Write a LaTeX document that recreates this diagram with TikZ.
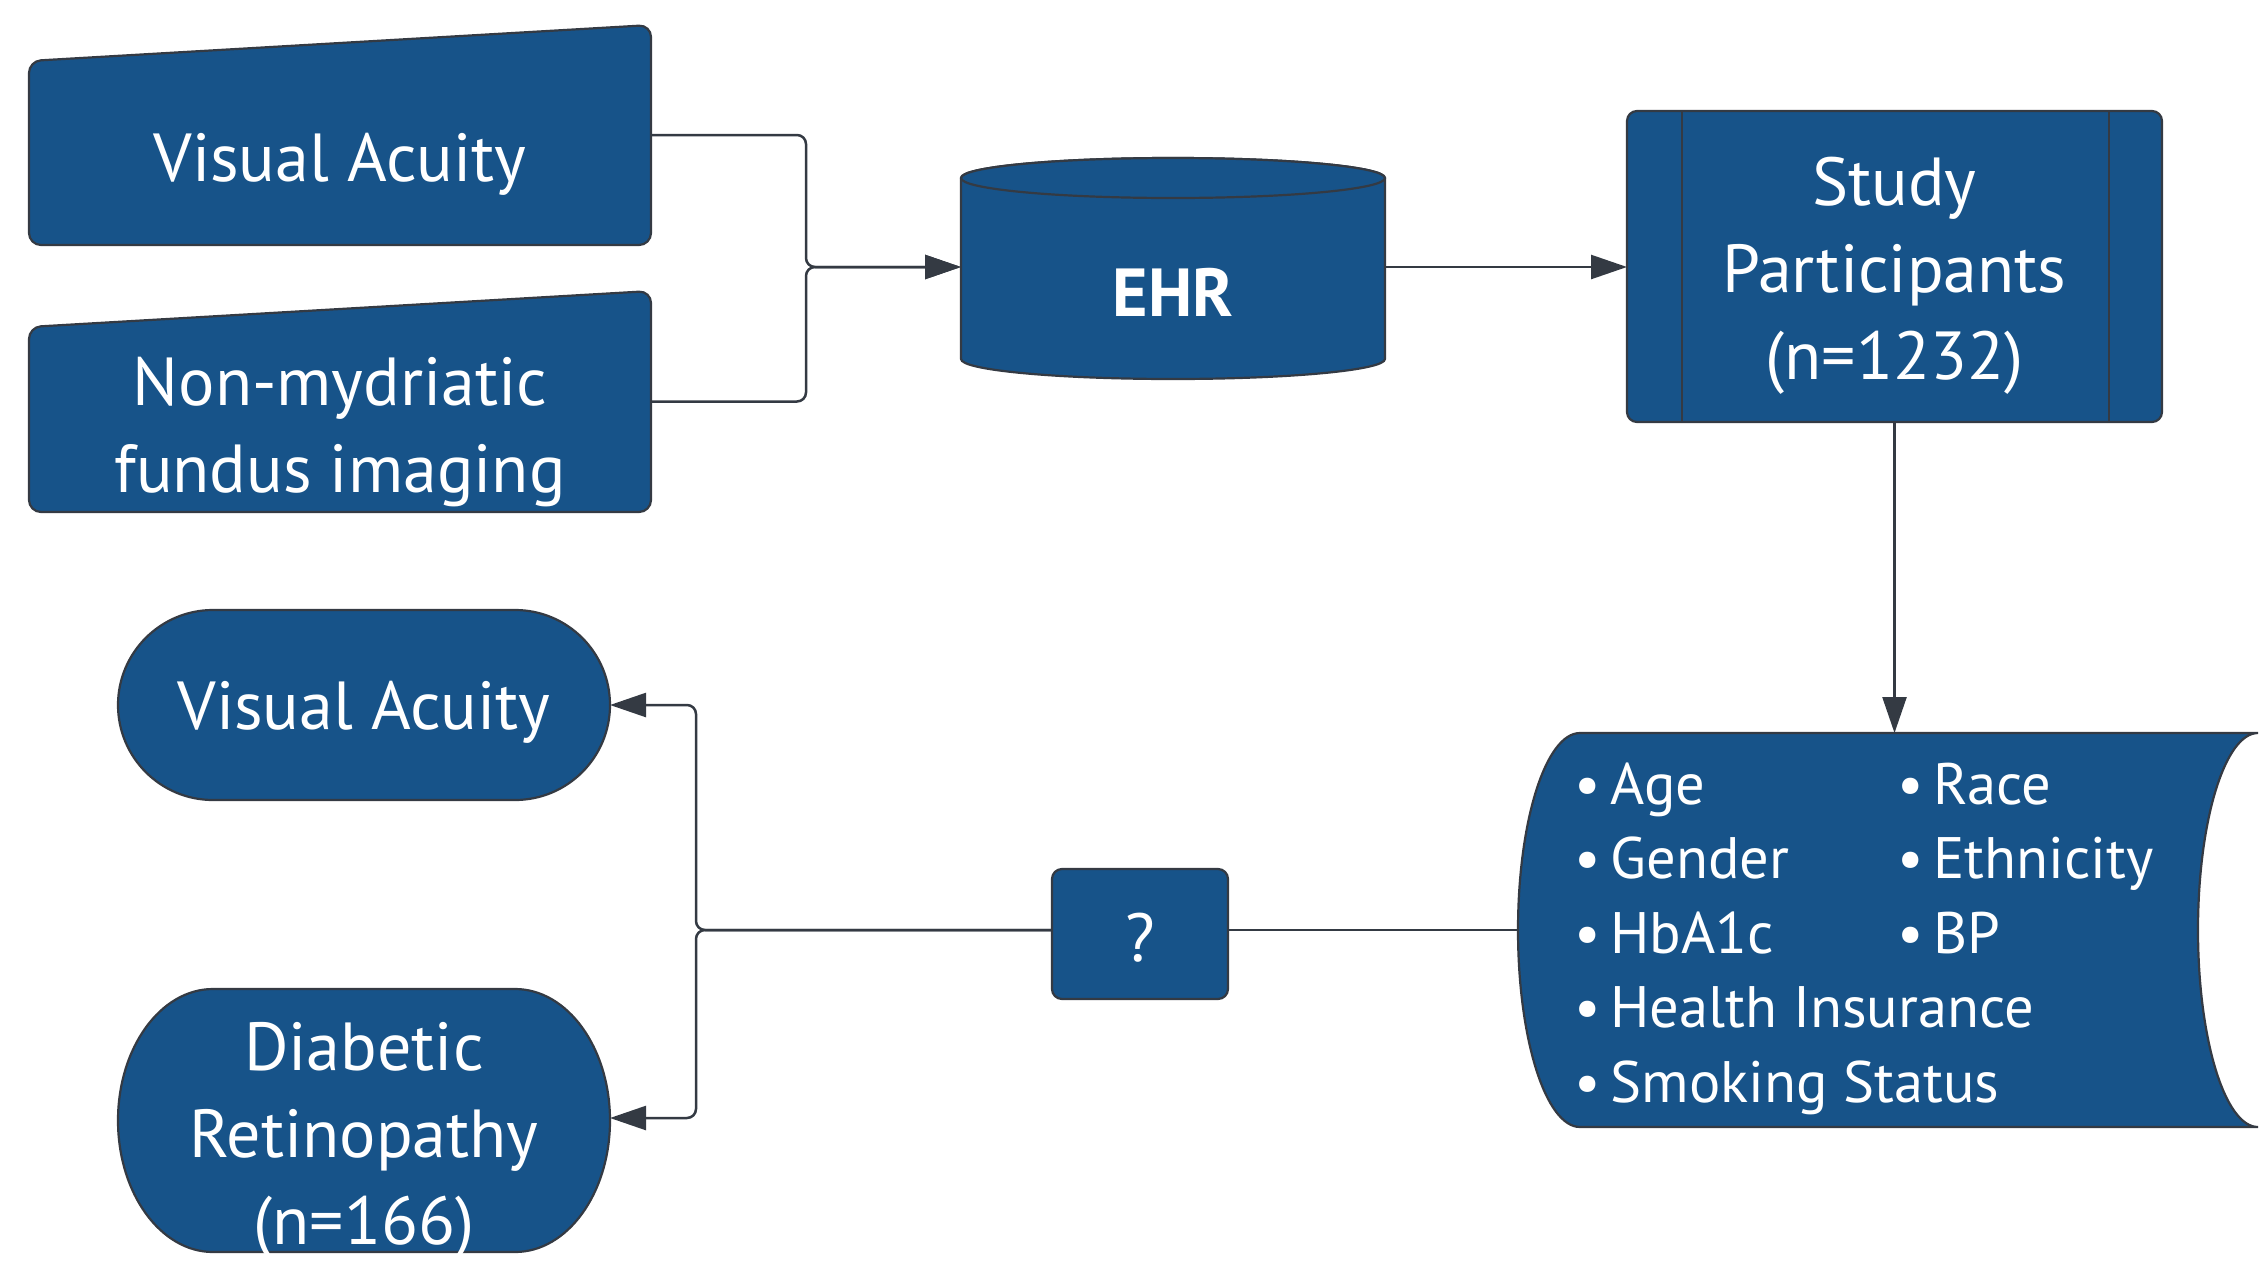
\documentclass[tikz,border=0pt]{standalone}
\usepackage{fontspec}
\setmainfont{PT Sans}
\usetikzlibrary{arrows.meta}
\definecolor{boxblue}{RGB}{23,83,137}
\definecolor{edgegray}{RGB}{52,58,67}
\tikzset{
  shapebox/.style={fill=boxblue, draw=edgegray, line width=2.2pt},
  anchorbox/.style={inner sep=0pt, outer sep=0pt, draw=none},
  txt/.style={text=white, align=center, inner sep=0pt, font=\fontsize{68}{87}\selectfont},
  listtxt/.style={text=white, anchor=base west, inner sep=0pt, font=\fontsize{58.5}{74}\selectfont},
  conn/.style={draw=edgegray, line width=2.5pt, rounded corners=9pt},
  arr/.style={conn, -{Triangle[length=36pt,width=24pt]}},
}
\begin{document}
\begin{tikzpicture}[x=1pt,y=-1pt]
\useasboundingbox (0,0) rectangle (2260,1264);
% ---------- manual input boxes
\draw[shapebox, rounded corners=12pt] (29,61) -- (651,25) -- (651,245) -- (29,245) -- cycle;
\node[anchorbox, minimum width=622pt, minimum height=220pt] (va1) at (340,135) {};
\node[txt] (va1t) at (340,164) {Visual Acuity};
\draw[shapebox, rounded corners=12pt] (29,327) -- (651,291) -- (651,512) -- (29,512) -- cycle;
\node[anchorbox, minimum width=622pt, minimum height=221pt] (nm) at (340,401.5) {};
\node[txt] (nmt) at (340,432) {Non-mydriatic\\fundus imaging};
% ---------- EHR cylinder
\draw[shapebox] (961,178) -- (961,359) arc[start angle=180, end angle=0, x radius=212, y radius=20]
  -- (1385,178) arc[start angle=0, end angle=-180, x radius=212, y radius=20] -- cycle;
\draw[shapebox] (1173,178) ellipse[x radius=212, y radius=20];
\node[anchorbox, minimum width=424pt, minimum height=221pt] (ehr) at (1173,267) {};
\node[txt, font=\fontsize{68}{87}\selectfont\bfseries] (ehrt) at (1173,292) {EHR};
% ---------- Study participants
\draw[shapebox, rounded corners=10pt] (1627,111) rectangle (2162,422);
\draw[edgegray, line width=2.2pt] (1682,111) -- (1682,422) (2109,111) -- (2109,422);
\node[anchorbox, minimum width=535pt, minimum height=312pt] (sp) at (1894.5,267) {};
\node[txt] (spt) at (1894.5,276) {Study\\Participants\\(n=1232)};
% ---------- stored data
\draw[shapebox] (1580,733) arc[start angle=-90, end angle=-270, x radius=62, y radius=197]
  -- (2258,1127) arc[start angle=90, end angle=270, x radius=60, y radius=197] -- cycle;
\node[anchorbox, minimum width=740pt, minimum height=394pt] (sd) at (1888,930) {};
\node[listtxt] (l1) at (1574,804) {\textbullet\hspace{10pt}Age};
\node[listtxt] (l2) at (1574,878.5) {\textbullet\hspace{10pt}Gender};
\node[listtxt] (l3) at (1574,953) {\textbullet\hspace{10pt}HbA1c};
\node[listtxt] (l4) at (1574,1027.5) {\textbullet\hspace{10pt}Health Insurance};
\node[listtxt] (l5) at (1574,1102) {\textbullet\hspace{10pt}Smoking Status};
\node[listtxt] (r1) at (1897,804) {\textbullet\hspace{10pt}Race};
\node[listtxt] (r2) at (1897,878.5) {\textbullet\hspace{10pt}Ethnicity};
\node[listtxt] (r3) at (1897,953) {\textbullet\hspace{10pt}BP};
% ---------- question box
\draw[shapebox, rounded corners=10pt] (1052,869) rectangle (1228,999);
\node[anchorbox, minimum width=176pt, minimum height=122pt] (q) at (1140,930) {};
\node[txt] (qt) at (1140,938) {?};
% ---------- outcomes
\draw[shapebox] (213,610) -- (515,610) arc[start angle=-90, end angle=90, x radius=95, y radius=95]
  -- (213,800) arc[start angle=90, end angle=270, x radius=95, y radius=95] -- cycle;
\node[anchorbox, minimum width=492pt, minimum height=190pt] (va2) at (364,705) {};
\node[txt] (va2t) at (364,712) {Visual Acuity};
\draw[shapebox] (213,989) -- (515,989) arc[start angle=-90, end angle=90, x radius=95, y radius=131.5]
  -- (213,1252) arc[start angle=90, end angle=270, x radius=95, y radius=131.5] -- cycle;
\node[anchorbox, minimum width=492pt, minimum height=263pt] (dr) at (364,1118) {};
\node[txt] (drt) at (364,1141) {Diabetic\\Retinopathy\\(n=166)};
% ---------- connectors
\coordinate (j1) at (806,267);
\draw[arr] (va1.east) -| (j1) -- (ehr.west);
\draw[arr] (nm.east) -| (j1) -- (ehr.west);
\draw[arr] (ehr.east) -- (sp.west);
\draw[arr] (sp.south) -- (sp.south |- sd.north);
\draw[conn] (sd.west) -- (q.east);
\coordinate (j2) at (696,930);
\draw[arr] (q.west) -- (j2) |- (va2.east);
\draw[arr] (q.west) -- (j2) |- (dr.east);
\end{tikzpicture}
\end{document}
